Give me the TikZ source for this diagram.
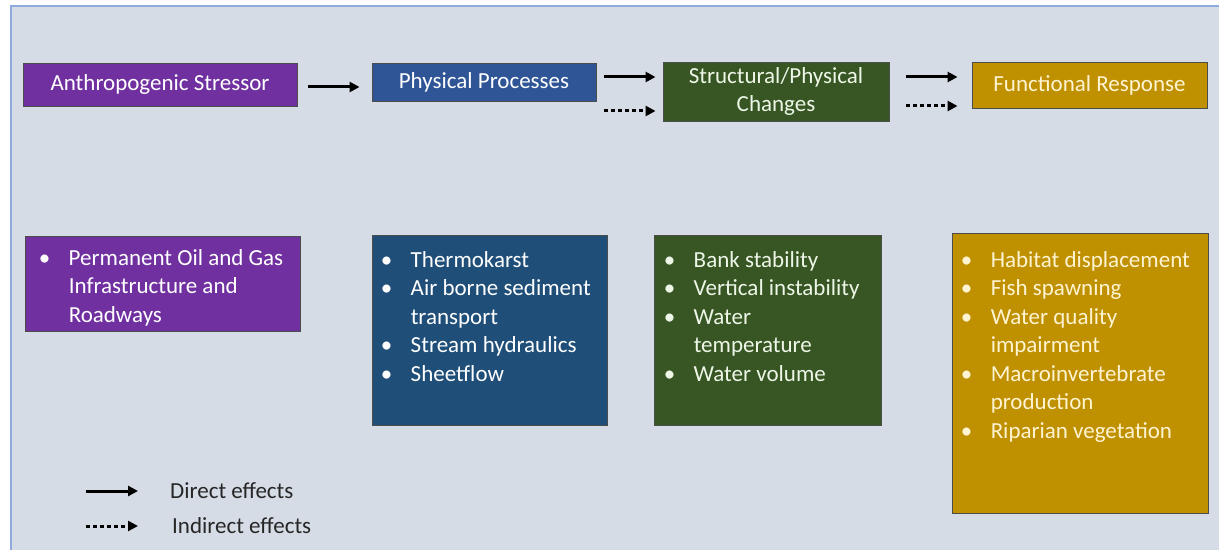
\documentclass[tikz,border=0pt]{standalone}
\usepackage{fontspec}
\setmainfont{Carlito}
\usetikzlibrary{arrows.meta,calc}
\definecolor{bgc}{HTML}{D6DCE5}
\definecolor{framec}{HTML}{8FAADC}
\definecolor{purp}{HTML}{7030A0}
\definecolor{blueA}{HTML}{2F5597}
\definecolor{blueB}{HTML}{1F4E79}
\definecolor{grn}{HTML}{375623}
\definecolor{gold}{HTML}{BF9000}
\definecolor{goldtxt}{HTML}{FFF4D2}
\definecolor{grntxt}{HTML}{EEF6E8}
\tikzset{
  box/.style={draw=black!70, line width=0.9pt, inner sep=0pt, font=\fontsize{23}{28.5}\selectfont, align=center},
  listtxt/.style={anchor=north west, inner sep=0pt, font=\fontsize{23}{28.5}\selectfont},
  direct/.style={line width=3pt, -{Triangle[length=10pt,width=10pt]}},
  indirect/.style={line width=3pt, dash pattern=on 3.5pt off 3.5pt, -{Triangle[length=10pt,width=10pt]}},
}
\newcommand{\blist}[1]{\begin{tabular}{@{}p{30pt}@{}l@{}}#1\end{tabular}}
\begin{document}
\begin{tikzpicture}[x=1pt,y=1pt]
\useasboundingbox (0,0) rectangle (1219,550);
\fill[white] (0,0) rectangle (1219,550);
\fill[bgc] (11,0) rectangle (1219,544);
\draw[framec, line width=1.5pt] (11,0) -- (11,544) -- (1219,544);

% top row
\node[box, fill=purp, text=white, minimum width=274pt, minimum height=43pt] (stress) at (160,465.5) {Anthropogenic Stressor};
\node[box, fill=blueA, text=white, minimum width=224pt, minimum height=38pt] (proc) at (484,468) {Physical Processes};
\node[box, fill=grn, text=grntxt, minimum width=226pt, minimum height=59pt] (struct) at (776,458.5) {Structural/Physical\\Changes};
\node[box, fill=gold, text=goldtxt, minimum width=235pt, minimum height=46pt] (func) at (1089.5,465) {Functional Response};

% arrows
\draw[direct, shorten <=11pt, shorten >=12pt] ([yshift=-2.5pt]stress.east) -- ([yshift=-2.5pt]stress.east -| proc.west);
\draw[direct, shorten <=8pt, shorten >=7pt] ([yshift=5pt]proc.east) -- ([yshift=5pt]proc.east -| struct.west);
\draw[indirect, shorten <=8pt, shorten >=7pt] ([yshift=-29pt]proc.east) -- ([yshift=-29pt]proc.east -| struct.west);
\draw[direct, shorten <=17pt, shorten >=14pt] ([yshift=14.5pt]struct.east) -- ([yshift=14.5pt]struct.east -| func.west);
\draw[indirect, shorten <=17pt, shorten >=14pt] ([yshift=-14.5pt]struct.east) -- ([yshift=-14.5pt]struct.east -| func.west);

% lower boxes
\node[box, fill=purp, minimum width=275pt, minimum height=95pt] (pb) at (162.5,266.5) {};
\node[box, fill=blueB, minimum width=235pt, minimum height=190pt] (bb) at (489.5,220) {};
\node[box, fill=grn, minimum width=227pt, minimum height=190pt] (gb) at (767.5,220) {};
\node[box, fill=gold, minimum width=256pt, minimum height=280pt] (yb) at (1080,177) {};

\node[listtxt, text=white] (pt) at ($(pb.north west)+(14,-9.5)$) {\blist{\textbullet & Permanent Oil and Gas\\ & Infrastructure and\\ & Roadways}};
\node[listtxt, text=white] (bt) at ($(bb.north west)+(9,-12.5)$) {\blist{\textbullet & Thermokarst\\ \textbullet & Air borne sediment\\ & transport\\ \textbullet & Stream hydraulics\\ \textbullet & Sheetflow}};
\node[listtxt, text=grntxt] (gt) at ($(gb.north west)+(10,-12.5)$) {\blist{\textbullet & Bank stability\\ \textbullet & Vertical instability\\ \textbullet & Water\\ & temperature\\ \textbullet & Water volume}};
\node[listtxt, text=goldtxt] (yt) at ($(yb.north west)+(9,-14.5)$) {\blist{\textbullet & Habitat displacement\\ \textbullet & Fish spawning\\ \textbullet & Water quality\\ & impairment\\ \textbullet & Macroinvertebrate\\ & production\\ \textbullet & Riparian vegetation}};

% legend
\node[anchor=west, inner sep=0pt, font=\fontsize{23}{28.5}\selectfont, text=black!85] (ld) at (170,59) {Direct effects};
\node[anchor=west, inner sep=0pt, font=\fontsize{23}{28.5}\selectfont, text=black!85] (li) at (172,24) {Indirect effects};
\coordinate (lds) at (86,59);
\coordinate (lis) at (86,24);
\draw[direct, shorten >=32pt] (lds) -- (ld.west);
\draw[indirect, shorten >=34pt] (lis) -- (li.west);
\end{tikzpicture}
\end{document}
